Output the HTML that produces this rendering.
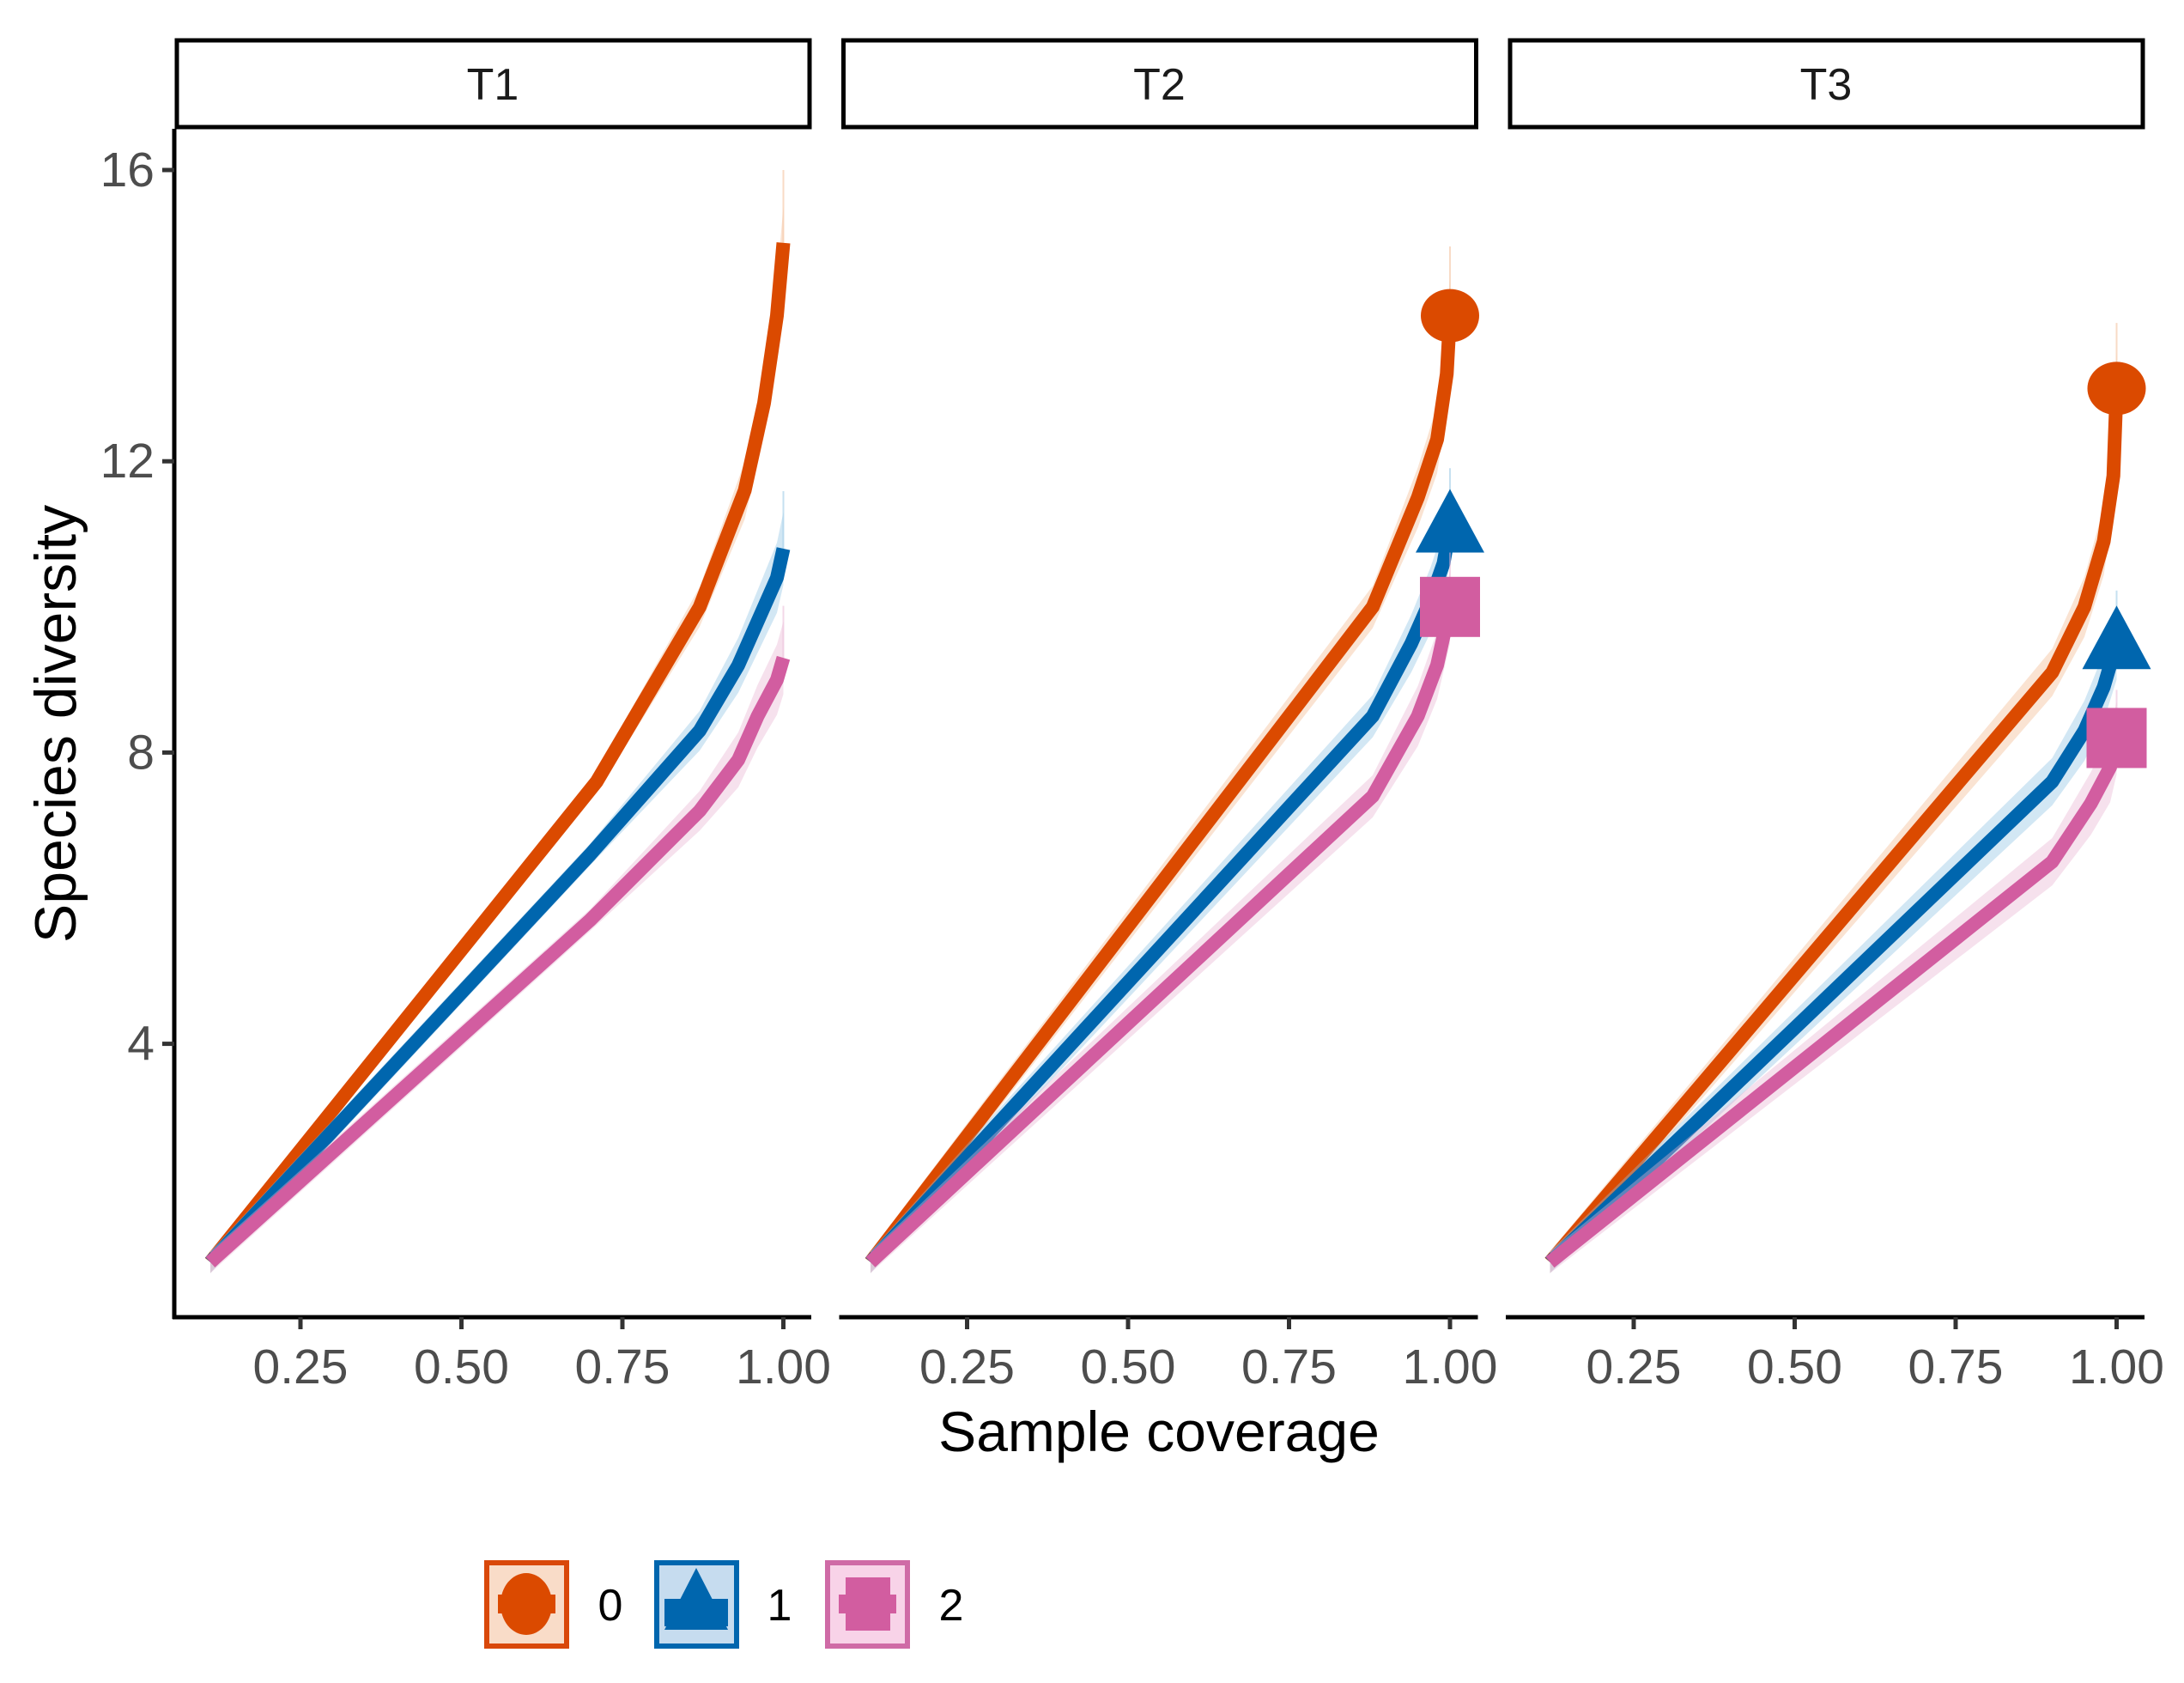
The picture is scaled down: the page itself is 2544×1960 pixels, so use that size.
<!DOCTYPE html>
<html><head><meta charset="utf-8"><style>
html,body{margin:0;padding:0;background:#fff;}
svg{display:block;font-family:"Liberation Sans",Arial,sans-serif;}
</style></head><body>
<svg id="chart" width="2544" height="1960" viewBox="0 0 2544 1960" xmlns="http://www.w3.org/2000/svg">
<rect width="2544" height="1960" fill="#fff"/>
<text x="65" y="843" transform="rotate(-90 65 843)" font-size="68" text-anchor="middle" dominant-baseline="central" fill="#000">Species diversity</text>
<text x="1350" y="1667" font-size="66" text-anchor="middle" dominant-baseline="central" fill="#000">Sample coverage</text>
<g id="legend">
  <g>
    <rect x="567" y="1820" width="93" height="97" fill="#f9dcc8" stroke="#D9480A" stroke-width="6"/>
    <rect x="580" y="1857" width="67" height="22" fill="#DB4A00"/>
    <ellipse cx="613" cy="1868" rx="30" ry="36" fill="#DB4A00"/>
    <text x="711" y="1870" font-size="52" text-anchor="middle" dominant-baseline="central" fill="#000">0</text>
  </g>
  <g>
    <rect x="765" y="1820" width="93" height="97" fill="#c6dcef" stroke="#0066AE" stroke-width="6"/>
    <polygon points="811,1826 848,1898 774,1898" fill="#0066AE"/>
    <rect x="774" y="1862" width="74" height="32" fill="#0066AE"/>
    <text x="908" y="1870" font-size="52" text-anchor="middle" dominant-baseline="central" fill="#000">1</text>
  </g>
  <g>
    <rect x="964" y="1820" width="93" height="97" fill="#f8d3e8" stroke="#CF6BA6" stroke-width="6"/>
    <rect x="977" y="1857" width="67" height="22" fill="#D25DA0"/>
    <rect x="985" y="1837" width="52" height="62" fill="#D25DA0"/>
    <text x="1108" y="1870" font-size="52" text-anchor="middle" dominant-baseline="central" fill="#000">2</text>
  </g>
</g>
</svg>
<script>
const panels = ['T1','T2','T3'];
const orderLabels = ['0','1','2'];
const yTicks = [4, 8, 12, 16];
const xTicks = [0.25, 0.5, 0.75, 1.0];
const xTickLabels = ['0.25','0.50','0.75','1.00'];
const t1q0x = [0.11,0.71,0.87,0.94,0.97,0.99,1.0];
const t1q0y = [1.0,7.6,10.0,11.6,12.8,14.0,15.0];
const t1q1x = [0.11,0.70,0.87,0.93,0.96,0.99,1.0];
const t1q1y = [1.0,6.6,8.3,9.2,9.8,10.4,10.8];
const t1q2x = [0.11,0.70,0.87,0.93,0.96,0.99,1.0];
const t1q2y = [1.0,5.7,7.2,7.9,8.5,9.0,9.3];
const t2q0x = [0.10,0.88,0.95,0.98,0.995,1.0];
const t2q0y = [1.0,10.0,11.5,12.3,13.2,14.0];
const t2q1x = [0.10,0.88,0.94,0.97,0.99,1.0];
const t2q1y = [1.0,8.5,9.5,10.1,10.6,11.1];
const t2q2x = [0.10,0.88,0.95,0.98,1.0];
const t2q2y = [1.0,7.4,8.5,9.2,10.0];
const t3q0x = [0.12,0.90,0.95,0.98,0.995,1.0];
const t3q0y = [1.0,9.1,10.0,10.9,11.8,13.0];
const t3q1x = [0.12,0.90,0.95,0.98,1.0];
const t3q1y = [1.0,7.6,8.3,8.9,9.5];
const t3q2x = [0.12,0.90,0.96,0.99,1.0];
const t3q2y = [1.0,6.5,7.3,7.8,8.2];
const showEndMarker = [false, true, true];

const series = [
  [[t1q0x,t1q0y],[t1q1x,t1q1y],[t1q2x,t1q2y]],
  [[t2q0x,t2q0y],[t2q1x,t2q1y],[t2q2x,t2q2y]],
  [[t3q0x,t3q0y],[t3q1x,t3q1y],[t3q2x,t3q2y]]
];
const colors = ['#DB4A00','#0066AE','#D25DA0'];
const bandColors = ['#f3b88f','#8fc3e3','#e9b3d2'];
const NS = 'http://www.w3.org/2000/svg';
const svg = document.getElementById('chart');
const panelLeft0 = 203, panelW = 742, panelStep = 776.5;
const panelTop = 150, panelBottom = 1534;
function xScale(p, v){ return panelLeft0 + p*panelStep + 147 + (v-0.25)*750; }
function yScale(v){ return 198 + (16 - v)*84.8; }
function mk(tag, attrs, parent){
  const e = document.createElementNS(NS, tag);
  for (const k in attrs) e.setAttribute(k, attrs[k]);
  (parent||svg).appendChild(e);
  return e;
}
panels.forEach((name, p) => {
  const g = mk('g', {});
  
  
  const L = panelLeft0 + p*panelStep;
  const strip = mk('rect', {x: L+3, y: 47, width: panelW-5, height: 101, fill: '#fff', stroke: '#000', 'stroke-width': 5}, g);
  
  
  const st = mk('text', {x: L + panelW/2, y: 99, 'font-size': 52, 'text-anchor': 'middle', 'dominant-baseline': 'central', fill: '#1a1a1a'}, g);
  st.textContent = name;
  
  
  series[p].forEach((s, q) => {
    const xs = s[0], ys = s[1];
    let up = [], dn = [];
    xs.forEach((x, i) => {
      const w = 0.15 + 0.35*Math.max(0, (x-0.8)/0.2);
      up.push(xScale(p,x) + ',' + yScale(ys[i] + w));
      dn.unshift(xScale(p,x) + ',' + yScale(ys[i] - w));
    });
    const band = mk('polygon', {points: up.concat(dn).join(' '), fill: bandColors[q], opacity: 0.4}, g);
    
    
    const last = xs.length - 1;
    const ci = mk('line', {x1: xScale(p, xs[last]), x2: xScale(p, xs[last]), y1: yScale(ys[last] + 0.25 + ys[last]*0.05), y2: yScale(ys[last]), stroke: bandColors[q], 'stroke-width': 2, opacity: 0.5}, g);
    
    
    const pts = xs.map((x, i) => xScale(p,x) + ',' + yScale(ys[i])).join(' ');
    const line = mk('polyline', {points: pts, fill: 'none', stroke: colors[q], 'stroke-width': 16, 'stroke-linejoin': 'round'}, g);
    
    
  });
  if (showEndMarker[p]) {
    series[p].forEach((s, q) => {
      const xs = s[0], ys = s[1], last = xs.length - 1;
      const cx = xScale(p, xs[last]), cy = yScale(ys[last]);
      let m;
      if (q === 0) m = mk('ellipse', {cx: cx, cy: cy, rx: 34, ry: 31, fill: colors[q]}, g);
      else if (q === 1) m = mk('polygon', {points: (cx)+','+(cy-44)+' '+(cx+40)+','+(cy+30)+' '+(cx-40)+','+(cy+30), fill: colors[q]}, g);
      else m = mk('rect', {x: cx-35, y: cy-35, width: 70, height: 70, fill: colors[q]}, g);
      
      
    });
  }
  const xa = mk('line', {x1: L - 2, x2: L + panelW, y1: panelBottom, y2: panelBottom, stroke: '#000', 'stroke-width': 5}, g);
  
  
  xTicks.forEach((t, i) => {
    const tx = xScale(p, t);
    const tk = mk('line', {x1: tx, x2: tx, y1: panelBottom, y2: panelBottom + 14, stroke: '#333', 'stroke-width': 5}, g);
    
    
    const tl = mk('text', {x: tx, y: 1592, 'font-size': 57, 'text-anchor': 'middle', 'dominant-baseline': 'central', fill: '#4d4d4d'}, g);
    tl.textContent = xTickLabels[i];
    
    
  });
});
const ya = mk('line', {x1: 203, x2: 203, y1: panelTop, y2: panelBottom + 2, stroke: '#000', 'stroke-width': 5});


yTicks.forEach(t => {
  const ty = yScale(t);
  const tk = mk('line', {x1: 189, x2: 203, y1: ty, y2: ty, stroke: '#333', 'stroke-width': 5});
  
  
  const tl = mk('text', {x: 180, y: ty, 'font-size': 57, 'text-anchor': 'end', 'dominant-baseline': 'central', fill: '#4d4d4d'});
  tl.textContent = String(t);
  
  
});
</script>
</body></html>
